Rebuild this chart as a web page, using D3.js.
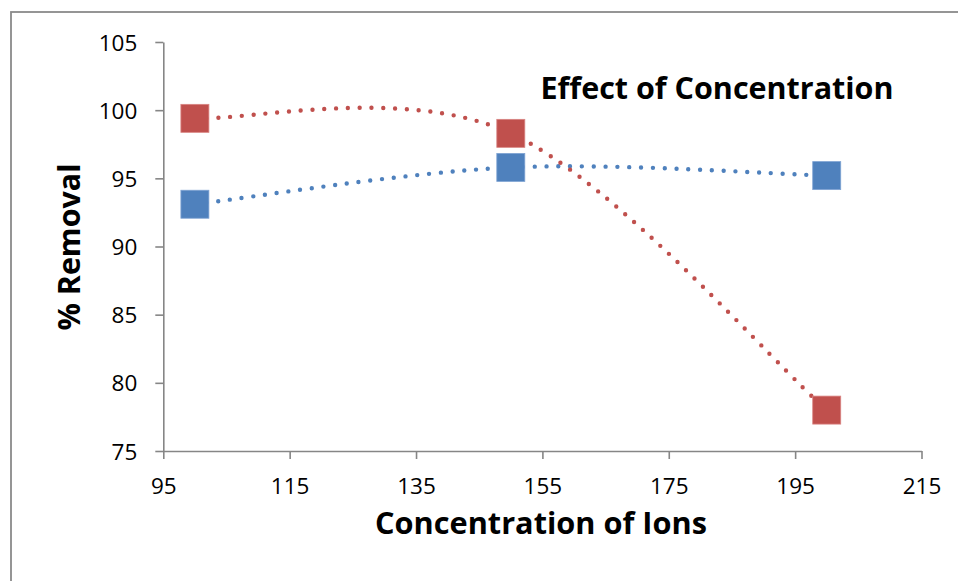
<!DOCTYPE html>
<html>
<head>
<meta charset="utf-8">
<script src="https://cdn.jsdelivr.net/npm/d3@7/dist/d3.min.js"></script>
<style>
  html, body { margin: 0; padding: 0; background: #fff; }
  svg { display: block; }
  text { font-family: "Open Sans", "Liberation Sans", sans-serif; fill: #000; }
</style>
</head>
<body>
<svg id="chart" width="958" height="581"></svg>
<script>
// Ion concentration (x) and % removal for the two series
const concentration = [100, 150, 200];
const removalRed = [99.4, 98.3, 78.0];
const removalBlue = [93.1, 95.8, 95.2];
const xTickValues = [95, 115, 135, 155, 175, 195, 215];
const yTickValues = [75, 80, 85, 90, 95, 100, 105];
const titleText = "Effect of Concentration";
const xLabelText = "Concentration of Ions";
const yLabelText = "% Removal";

const W = 958, H = 581;
const plot = { left: 163.3, right: 921.5, top: 42, bottom: 451 };

const svg = d3.select("#chart");

// Outer frame of the chart area (runs off the right and bottom edges)
svg.append("rect")
  .attr("x", 11).attr("y", 12)
  .attr("width", W).attr("height", H)
  .attr("fill", "none")
  .attr("stroke", "#8a8a8a")
  .attr("stroke-width", 1.8);

const x = d3.scaleLinear().domain([95, 215]).range([plot.left, plot.right]);
const y = d3.scaleLinear().domain([75, 105]).range([plot.bottom, plot.top]);

// Axes
const xAxis = d3.axisBottom(x).tickValues(xTickValues).tickSizeInner(8).tickSizeOuter(0).tickPadding(19);
const yAxis = d3.axisLeft(y).tickValues(yTickValues).tickSizeInner(8).tickSizeOuter(0).tickPadding(18);

const gx = svg.append("g").attr("transform", `translate(0,${plot.bottom})`).call(xAxis);
const gy = svg.append("g").attr("transform", `translate(${plot.left},0)`).call(yAxis);

[gx, gy].forEach(g => {
  g.select(".domain").attr("stroke", "#868686").attr("stroke-width", 1.6);
  g.selectAll(".tick line").attr("stroke", "#868686").attr("stroke-width", 1.6);
  g.selectAll(".tick text")
    .attr("font-family", '"Open Sans", "Liberation Sans", sans-serif')
    .attr("font-size", 22.5)
    .attr("fill", "#000");
});
gx.selectAll(".tick text").attr("dy", "0.71em");
gy.selectAll(".tick text").attr("dy", "0.36em");

// Smoothed path: cubic Béziers whose tangents are 1/6 of the neighbour
// span, with the end points repeated as their own neighbours.
function smoothPath(pts) {
  const p = d3.path();
  const n = pts.length;
  const at = i => pts[Math.max(0, Math.min(n - 1, i))];
  p.moveTo(pts[0][0], pts[0][1]);
  for (let i = 0; i < n - 1; i++) {
    const p0 = at(i - 1), p1 = at(i), p2 = at(i + 1), p3 = at(i + 2);
    p.bezierCurveTo(
      p1[0] + (p2[0] - p0[0]) / 6, p1[1] + (p2[1] - p0[1]) / 6,
      p2[0] - (p3[0] - p1[0]) / 6, p2[1] - (p3[1] - p1[1]) / 6,
      p2[0], p2[1]);
  }
  return p.toString();
}

const series = [
  { values: removalBlue, color: "#4F81BD", edge: "#7fa3d3" },
  { values: removalRed, color: "#C0504D", edge: "#d98482" }
];

// Dotted lines beneath the markers
series.forEach(s => {
  const pts = concentration.map((c, i) => [x(c), y(s.values[i])]);
  svg.append("path")
    .attr("d", smoothPath(pts))
    .attr("fill", "none")
    .attr("stroke", s.color)
    .attr("stroke-width", 4.4)
    .attr("stroke-linecap", "round")
    .attr("stroke-dasharray", "0 11.8");
});

// Square markers
const m = 28;
series.forEach(s => {
  svg.append("g").selectAll("rect")
    .data(concentration.map((c, i) => [c, s.values[i]]))
    .join("rect")
    .attr("x", d => x(d[0]) - m / 2)
    .attr("y", d => y(d[1]) - m / 2)
    .attr("width", m).attr("height", m)
    .attr("fill", s.color)
    .attr("stroke", s.edge)
    .attr("stroke-width", 0.8);
});

// Bold text fitted to a given width
function fitted(sel, target) {
  const w = sel.node().getComputedTextLength();
  const fs = parseFloat(sel.attr("font-size"));
  sel.attr("font-size", fs * target / w);
  return sel;
}

fitted(svg.append("text")
  .attr("x", 717).attr("y", 99)
  .attr("text-anchor", "middle")
  .attr("font-weight", "bold")
  .attr("font-size", 30)
  .text(titleText), 353);

fitted(svg.append("text")
  .attr("x", 541).attr("y", 534)
  .attr("text-anchor", "middle")
  .attr("font-weight", "bold")
  .attr("font-size", 30)
  .text(xLabelText), 332);

fitted(svg.append("text")
  .attr("transform", "translate(80,247) rotate(-90)")
  .attr("text-anchor", "middle")
  .attr("font-weight", "bold")
  .attr("font-size", 30)
  .text(yLabelText), 167);
</script>
</body>
</html>
